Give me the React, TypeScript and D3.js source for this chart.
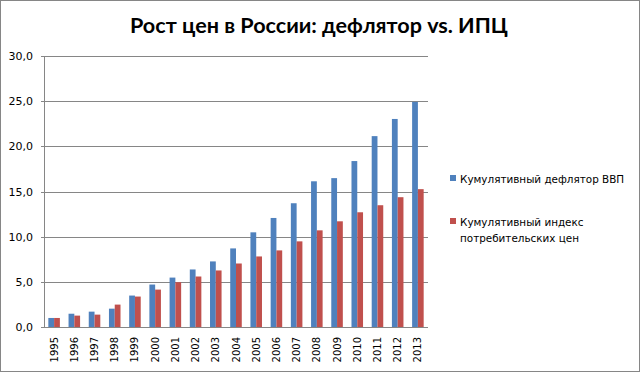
import React from "react";
import * as d3 from "d3";

const years = ["1995","1996","1997","1998","1999","2000","2001","2002","2003","2004","2005","2006","2007","2008","2009","2010","2011","2012","2013"];
const deflator = [1.0,1.47,1.70,2.03,3.48,4.70,5.47,6.37,7.26,8.70,10.48,12.07,13.70,16.13,16.48,18.37,21.13,23.03,24.92];
const cpi = [1.0,1.26,1.37,2.48,3.37,4.14,4.96,5.59,6.26,7.03,7.81,8.48,9.48,10.70,11.70,12.70,13.48,14.37,15.26];
const yTicks = [0,5,10,15,20,25,30];
const seriesNames = ["Кумулятивный дефлятор ВВП", "Кумулятивный индекс|потребительских цен"];
const colors = ["#4F81BD", "#C0504D"];
const title = "Рост цен в России: дефлятор vs. ИПЦ";

export default function App() {
  const W = 641, H = 373;
  const left = 44, right = 428, top = 56, bottom = 327;
  const x = d3.scaleBand<string>().domain(years).range([left, right]).paddingInner(0).paddingOuter(0);
  const y = d3.scaleLinear().domain([0, 30]).range([bottom, top]);
  const bw = x.bandwidth();
  const barW = bw / 3.5;
  const fmt = (v: number) => v.toFixed(1).replace(".", ",");
  const font = "'DejaVu Sans', Verdana, sans-serif";
  const series = [deflator, cpi];
  return (
    <svg width={W} height={H} style={{ position: "absolute", left: 0, top: 0 }}>
      <rect x={0} y={0} width={W} height={H} fill="#fff" />
      <rect x={0.5} y={0.5} width={639} height={371} fill="none" stroke="#868686" />
      <text x={130} y={33} fontFamily="Lato, 'Open Sans', sans-serif" fontWeight="bold" fontSize={21}
        textLength={378} lengthAdjust="spacingAndGlyphs" fill="#000">{title}</text>
      {yTicks.map((t) => (
        <g key={t}>
          {t > 0 && <line x1={left} x2={right} y1={Math.round(y(t)) + 0.5} y2={Math.round(y(t)) + 0.5} stroke="#868686" />}
          <line x1={left - 3} x2={left} y1={Math.round(y(t)) + 0.5} y2={Math.round(y(t)) + 0.5} stroke="#868686" />
          <text x={33} y={y(t) + 4} textAnchor="end" fontFamily={font} fontSize={11} fill="#000">{fmt(t)}</text>
        </g>
      ))}
      {years.map((yr, i) => (
        <g key={yr}>
          {series.map((s, k) => (
            <rect key={k} x={(x(yr) as number) + bw / 2 - barW + k * barW} y={y(s[i])}
              width={barW} height={bottom - y(s[i])} fill={colors[k]} />
          ))}
          <text transform={`translate(${(x(yr) as number) + bw / 2 + 3.5},${bottom + 10}) rotate(-90)`}
            textAnchor="end" fontFamily={font} fontSize={10} fill="#000">{yr}</text>
        </g>
      ))}
      <line x1={left + 0.5} x2={left + 0.5} y1={top} y2={bottom} stroke="#868686" />
      <line x1={left} x2={right} y1={bottom + 0.5} y2={bottom + 0.5} stroke="#868686" />
      {seriesNames.map((n, k) => {
        const sy = k === 0 ? 175 : 218;
        const lines = n.split("|");
        return (
          <g key={k}>
            <rect x={450} y={sy} width={6} height={6} fill={colors[k]} />
            {lines.map((l, j) => (
              <text key={j} x={460} y={sy + 8 + j * 16} fontFamily={font} fontSize={10.4} fill="#000">{l}</text>
            ))}
          </g>
        );
      })}
    </svg>
  );
}
